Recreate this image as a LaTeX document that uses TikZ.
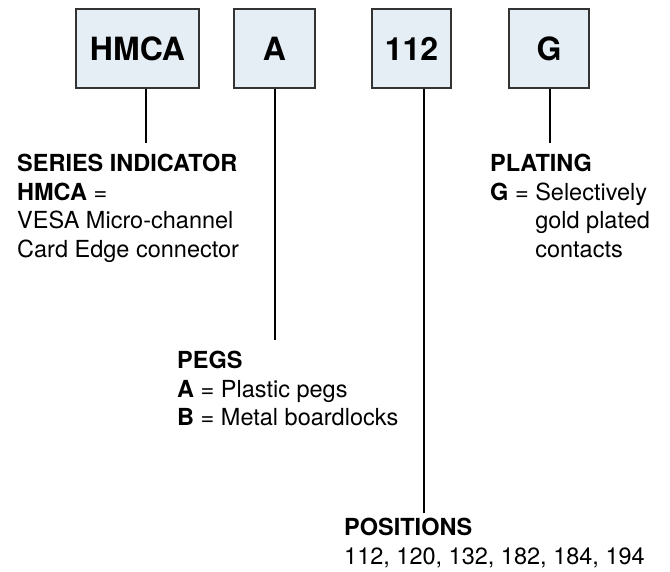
\documentclass[tikz,border=0pt]{standalone}
\usepackage{fontspec}
\setmainfont{TeX Gyre Heros}
\definecolor{boxfill}{HTML}{E6EEF5}
\definecolor{boxline}{HTML}{333333}
\begin{document}
\begin{tikzpicture}[x=1pt,y=-1pt,
  codebox/.style={draw=boxline,fill=boxfill,line width=1.3pt,inner sep=0pt,
    font=\fontsize{32}{32}\selectfont\bfseries,minimum height=79pt},
  leader/.style={line width=2.2pt,black},
  desc/.style={anchor=north west,align=left,inner sep=0pt,
    font=\fontsize{23.5}{28.5}\selectfont}]
\useasboundingbox (0,0) rectangle (670,572);
% code boxes
\node[codebox,minimum width=123pt] (hmca) at (137.5,48.5) {HMCA};
\node[codebox,minimum width=81pt]  (peg)  at (274.5,48.5) {A};
\node[codebox,minimum width=79pt]  (pos)  at (411.5,48.5) {112};
\node[codebox,minimum width=80pt]  (plt)  at (549,48.5) {G};
% leader ends
\coordinate (e1) at (146,143);
\coordinate (e2) at (275,340);
\coordinate (e3) at (424,513);
\coordinate (e4) at (550,143);
\draw[leader] (e1 |- hmca.south) -- (e1);
\draw[leader] (e2 |- peg.south) -- (e2);
\draw[leader] (e3 |- pos.south) -- (e3);
\draw[leader] (e4 |- plt.south) -- (e4);
% descriptions
\node[desc] (series) at (17,154) {\textbf{SERIES INDICATOR}\\
  \textbf{HMCA} =\\
  VESA Micro-channel\\
  Card Edge connector};
\node[desc] (plating) at (490,154) {\textbf{PLATING}\\
  \textbf{G} = Selectively\\
  \phantom{\textbf{G} = }gold plated\\
  \phantom{\textbf{G} = }contacts};
\node[desc] (pegs) at (177,351) {\textbf{PEGS}\\
  \textbf{A} = Plastic pegs\\
  \textbf{B} = Metal boardlocks};
\node[desc] (positions) at (344,518) {\textbf{POSITIONS}\\
  112, 120, 132, 182, 184, 194};
\end{tikzpicture}
\end{document}
